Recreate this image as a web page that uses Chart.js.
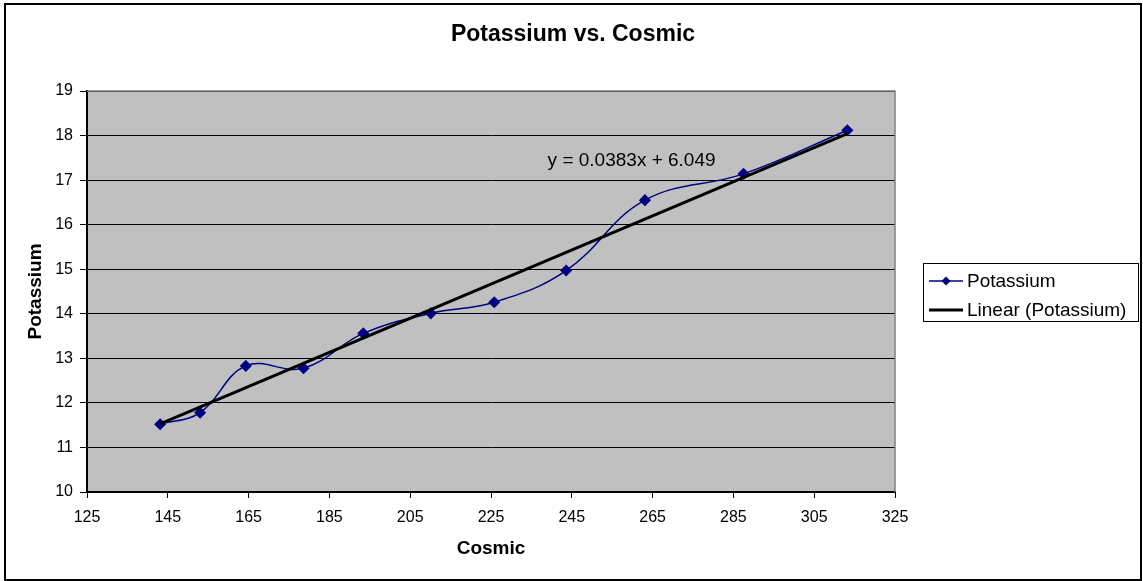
<!DOCTYPE html>
<html>
<head>
<meta charset="utf-8">
<script src="https://cdn.jsdelivr.net/npm/chart.js@4"></script>
<style>
  body { margin: 0; background: #fff; }
  canvas { display: block; }
</style>
</head>
<body>
<canvas id="potChart" width="1143" height="581"></canvas>
<script>
// cosmic / potassium readings
const cosmic = [143.1, 153.0, 164.3, 178.6, 193.4, 210.1, 225.8, 243.6, 263.1, 287.5, 313.2]
const potassium = [11.52, 11.78, 12.83, 12.78, 13.56, 14.01, 14.26, 14.97, 16.55, 17.14, 18.12]

// linear fit shown on the chart
const slope = 0.0383
const intercept = 6.049

const xTicks = [125, 325, 20]   // min, max, step
const yTicks = [10, 19, 1]

const FONT = 'Arial, "Liberation Sans", sans-serif'

let points = []
for (let i = 0; i < cosmic.length; i++) {
    points.push({x: cosmic[i], y: potassium[i]})
}
let xMin = Math.min(...cosmic)
let xMax = Math.max(...cosmic)
let trend = [
    {x: xMin, y: slope * xMin + intercept},
    {x: xMax, y: slope * xMax + intercept}
]

// background, title, border, equation and legend are painted by hand
const decor = {
    id: 'decor',
    beforeDraw(chart) {
        const c = chart.ctx
        const a = chart.chartArea
        c.save()
        c.fillStyle = '#fff'
        c.fillRect(0, 0, chart.width, chart.height)
        c.fillStyle = '#c0c0c0'
        c.fillRect(a.left, a.top, a.right - a.left, a.bottom - a.top)
        c.restore()
    },
    afterDraw(chart) {
        const c = chart.ctx
        const a = chart.chartArea
        const xs = chart.scales.x
        const ys = chart.scales.y
        c.save()

        // plot frame, top and right sides
        c.strokeStyle = '#808080'
        c.lineWidth = 1.5
        c.beginPath()
        c.moveTo(a.left, a.top)
        c.lineTo(a.right, a.top)
        c.lineTo(a.right, a.bottom)
        c.stroke()

        // outer frame
        c.strokeStyle = '#000'
        c.lineWidth = 2
        c.strokeRect(5, 4, 1136, 576)

        // title
        c.fillStyle = '#000'
        c.font = 'bold 23px ' + FONT
        c.textAlign = 'center'
        c.textBaseline = 'middle'
        c.fillText('Potassium vs. Cosmic', 573, 35)

        // trendline equation
        c.font = '19px ' + FONT
        c.fillText('y = ' + slope + 'x + ' + intercept, xs.getPixelForValue(259.8), ys.getPixelForValue(17.43))

        // legend
        c.lineWidth = 1
        c.strokeRect(923.5, 263.5, 215, 58)
        c.textAlign = 'left'
        c.strokeStyle = '#000080'
        c.lineWidth = 1.5
        c.beginPath()
        c.moveTo(929, 281)
        c.lineTo(963, 281)
        c.stroke()
        c.fillStyle = '#000080'
        c.beginPath()
        c.moveTo(946, 276.5)
        c.lineTo(950.5, 281)
        c.lineTo(946, 285.5)
        c.lineTo(941.5, 281)
        c.closePath()
        c.fill()
        c.strokeStyle = '#000'
        c.lineWidth = 3
        c.beginPath()
        c.moveTo(929, 310)
        c.lineTo(963, 310)
        c.stroke()
        c.fillStyle = '#000'
        c.fillText('Potassium', 967, 282)
        c.fillText('Linear (Potassium)', 967, 311)

        c.restore()
    }
}

new Chart(document.getElementById('potChart'), {
    type: 'scatter',
    data: {
        datasets: [{
            label: 'Potassium',
            data: points,
            showLine: true,
            tension: 0.4,
            borderColor: '#000080',
            backgroundColor: '#000080',
            borderWidth: 1.5,
            pointStyle: 'rectRot',
            pointRadius: 5,
            pointHoverRadius: 5,
            order: 2
        }, {
            label: 'Linear (Potassium)',
            data: trend,
            showLine: true,
            borderColor: '#000',
            borderWidth: 3,
            pointRadius: 0,
            order: 1
        }]
    },
    options: {
        responsive: false,
        animation: false,
        layout: {
            padding: {left: 0, top: 91, right: 248, bottom: 0}
        },
        plugins: {
            legend: {display: false},
            title: {display: false},
            tooltip: {enabled: false}
        },
        scales: {
            x: {
                type: 'linear',
                min: xTicks[0],
                max: xTicks[1],
                ticks: {
                    stepSize: xTicks[2],
                    color: '#000',
                    font: {family: FONT, size: 16},
                    padding: 10,
                    maxRotation: 0
                },
                grid: {
                    drawOnChartArea: false,
                    drawTicks: true,
                    tickLength: 6,
                    color: '#000'
                },
                border: {color: '#000', width: 2},
                title: {
                    display: true,
                    text: 'Cosmic',
                    color: '#000',
                    font: {family: FONT, size: 19, weight: 'bold'},
                    padding: {bottom: 21}
                },
                afterFit(scale) { scale.height = 89 }
            },
            y: {
                min: yTicks[0],
                max: yTicks[1],
                ticks: {
                    stepSize: yTicks[2],
                    color: '#000',
                    font: {family: FONT, size: 16},
                    padding: 7
                },
                grid: {
                    color: '#000',
                    lineWidth: 1,
                    tickLength: 7
                },
                border: {color: '#000', width: 2},
                title: {
                    display: true,
                    text: 'Potassium',
                    color: '#000',
                    font: {family: FONT, size: 19, weight: 'bold'},
                    padding: {top: 24}
                },
                afterFit(scale) { scale.width = 87 }
            }
        }
    },
    plugins: [decor]
})
</script>
</body>
</html>
